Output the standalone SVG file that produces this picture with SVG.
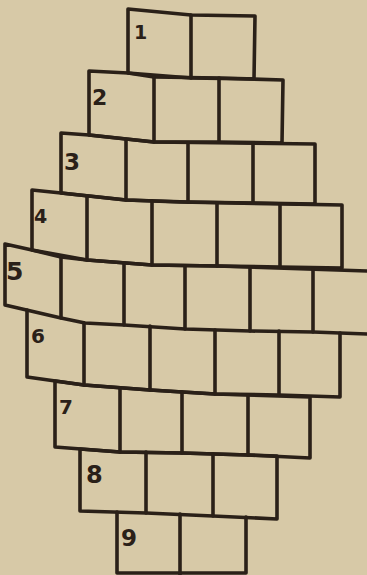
<svg xmlns="http://www.w3.org/2000/svg" width="367" height="575" viewBox="0 0 367 575">
<style>
.ln{fill:none;stroke:#2a2018;stroke-width:3.6;stroke-linejoin:round;stroke-linecap:round}
.num{font-family:"DejaVu Sans",sans-serif;fill:#2a2018;font-weight:bold}
</style>
<rect width="367" height="575" fill="#d7c9a7"/>
<g id="connectors">
<g id="row1"><polygon class="ln" points="128,9 191,15 255,16 254,79 191,78 128,73"/><polyline class="ln" points="191,15 191,78"/><text class="num" x="134" y="39" font-size="19">1</text></g>
<g id="row2"><polygon class="ln" points="89,71 128,73 154,77 219,78 283,80 282,143 219,142 154,142 89,135"/><polyline class="ln" points="154,77 154,142"/><polyline class="ln" points="219,78 219,142"/><text class="num" x="92" y="105" font-size="22">2</text></g>
<g id="row3"><polygon class="ln" points="61,133 89,135 154,142 315,144 315,204 253,203 188,202 126,200 61,193"/><polyline class="ln" points="126,140 126,200"/><polyline class="ln" points="188,143 188,202"/><polyline class="ln" points="253,143 253,203"/><text class="num" x="64" y="170" font-size="23">3</text></g>
<g id="row4"><polygon class="ln" points="32,190 61,193 126,200 180,202 342,205 342,268 280,267 217,266 152,265 87,260 32,250"/><polyline class="ln" points="87,196 87,260"/><polyline class="ln" points="152,201 152,265"/><polyline class="ln" points="217,203 217,266"/><polyline class="ln" points="280,204 280,267"/><text class="num" x="34" y="223" font-size="19">4</text></g>
<g id="row5"><polyline class="ln" points="369,271 217,266 152,265 87,260 61,257 32,250 5,244 5,305 61,318 85,323 124,325 185,329 250,331 313,332 369,334"/><polyline class="ln" points="61,257 61,318"/><polyline class="ln" points="124,264 124,325"/><polyline class="ln" points="185,266 185,329"/><polyline class="ln" points="250,267 250,331"/><polyline class="ln" points="313,269 313,332"/><text class="num" x="6" y="280" font-size="25">5</text></g>
<g id="row6"><polyline class="ln" points="27,310 27,377 84,385 150,390 215,394 279,395 340,397 340,333"/><polyline class="ln" points="84,323 84,385"/><polyline class="ln" points="150,326 150,390"/><polyline class="ln" points="215,330 215,394"/><polyline class="ln" points="279,331 279,395"/><text class="num" x="31" y="343" font-size="20">6</text></g>
<g id="row7"><polygon class="ln" points="55,381 84,385 150,390 215,394 310,397 310,458 248,455 182,453 120,452 55,447"/><polyline class="ln" points="120,388 120,452"/><polyline class="ln" points="182,392 182,453"/><polyline class="ln" points="248,395 248,455"/><text class="num" x="59" y="414" font-size="20">7</text></g>
<g id="row8"><polygon class="ln" points="80,449 120,452 182,453 248,455 277,456 277,519 213,516 146,513 80,511"/><polyline class="ln" points="146,452 146,513"/><polyline class="ln" points="213,454 213,516"/><text class="num" x="86" y="483" font-size="24">8</text></g>
<g id="row9"><polyline class="ln" points="117,512 117,573 246,573 246,517"/><polyline class="ln" points="180,514 180,575"/><text class="num" x="121" y="546" font-size="23">9</text></g>
</g>
</svg>
